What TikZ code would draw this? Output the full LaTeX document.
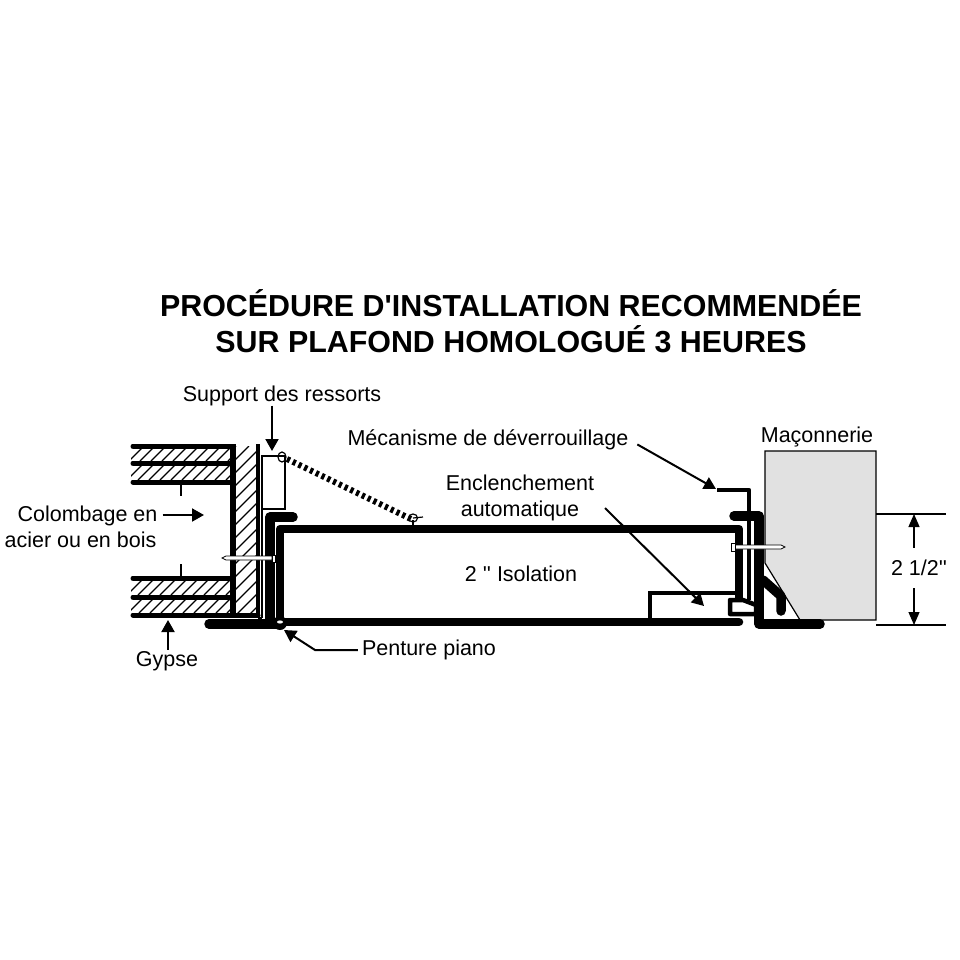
\documentclass[tikz,border=0pt]{standalone}
\usepackage{fontspec}
\newfontfamily\labelfont{Liberation Sans}
\usetikzlibrary{arrows.meta}
\tikzset{>=stealth}
\definecolor{masonry}{HTML}{E1E1E1}
\tikzset{
	lbl/.style={font=\labelfont\fontsize{21.5}{26}\selectfont, inner sep=0pt, text=black},
	titletext/.style={font=\labelfont\bfseries\fontsize{30.4}{36}\selectfont, inner sep=0pt, align=center},
	leader/.style={line width=2pt, -{Triangle[length=12pt,width=13pt]}},
	skin/.style={line width=5pt, line cap=round},
	sheet/.style={line width=9.5pt, line cap=round, line join=round},
	thin part/.style={line width=1.2pt},
	nail/.style={draw=black, fill=white, line width=0.7pt}
}
% hatched strip: x1, y1, x2, y2, spacing
\newcommand{\hatchbox}[5]{
	\begin{scope}
		\clip (#1,#2) rectangle (#3,#4);
		\pgfmathsetmacro{\hatchrise}{#4-#2}
		\pgfmathsetmacro{\hatchfirst}{#1-\hatchrise}
		\pgfmathsetmacro{\hatchnext}{\hatchfirst+#5}
		\foreach \hx in {\hatchfirst,\hatchnext,...,#3}
			\draw [line width=1.2pt] (\hx,#4) -- ++(\hatchrise,-\hatchrise);
	\end{scope}
}
\begin{document}
\begin{tikzpicture}[x=1pt,y=-1pt]
	\useasboundingbox (0,0) rectangle (960,960);
	% title
	\node [titletext] (title) at (511,321.5) {PROCÉDURE D'INSTALLATION RECOMMENDÉE\\SUR PLAFOND HOMOLOGUÉ 3 HEURES};
	% masonry
	\draw [thin part, fill=masonry] (765,563) -- (765,451) -- (876,451) -- (876,620) -- (800,620) -- cycle;
	% hatching of the wall
	\hatchbox{131}{448}{233}{461}{11}
	\hatchbox{131}{465}{233}{480}{11}
	\hatchbox{131}{580}{233}{595}{11}
	\hatchbox{131}{599}{233}{613}{11}
	\hatchbox{236}{446}{256}{615}{13}
	% wall layers
	\foreach \ylayer in {446,463,482,578,597,615}
		\draw [skin] (133,\ylayer) -- (233,\ylayer);
	\draw [line width=6pt] (233,444) -- (233,617);
	\draw [line width=3.5pt] (258,444) -- (258,617);
	\draw [skin] (233,615) -- (258,615);
	\draw [line width=2.2pt] (181,482) -- (181,496);
	\draw [line width=2.2pt] (181,564) -- (181,578);
	% spring support and spring
	\draw [line width=1.2pt] (262,618) -- (262,456) -- (285,456) -- (285,509) -- (262,509);
	\draw [line width=1.2pt] (258,618) -- (262,618);
	\draw [line width=6pt, dash pattern=on 3.2pt off 3.2pt] (287,459) -- (411,519);
	\draw [line width=1.2pt] (282,457) ellipse (4 and 5);
	\draw [line width=1.2pt] (413,518) ellipse (4.5 and 4);
	\draw [line width=1.2pt] (413,518) -- (423,517);
	\draw [line width=1.2pt] (413,520) -- (413,527);
	% left frame
	\draw [sheet] (293,517) -- (270,517) -- (270,622);
	\draw [sheet] (209,624) -- (280,624);
	% door panel
	\draw [line width=8.5pt, line join=round] (280,622) -- (280,529) -- (739,529) -- (739,598);
	\draw [line width=8.5pt, line cap=round] (280,622) -- (739,622);
	\fill (280,623) circle (7);
	\fill [white] (280,622) ellipse (3 and 1.6);
	% insulation box
	\draw [line width=4.5pt] (650,622) -- (650,593) -- (737,593);
	% latch side
	\draw [line width=4.5pt, line join=round, fill=white] (730,600) -- (743,600) -- (756,605) -- (756,614) -- (730,614) -- cycle;
	\draw [line width=4.5pt, line join=round] (717,490) -- (749,490) -- (749,600);
	\draw [sheet] (734,516) -- (759,516) -- (759,612);
	\draw [sheet] (759,612) -- (759,624) -- (820,624);
	\draw [sheet] (763,580) -- (781,596) -- (781,611);
	% nails
	\draw [nail] (222,558) -- (226,556) -- (272,556) -- (272,560) -- (226,560) -- cycle;
	\draw [nail] (272,555) rectangle (275,562);
	\draw [nail] (785,547) -- (781,545) -- (735,545) -- (735,549) -- (781,549) -- cycle;
	\draw [nail] (731,543) rectangle (735,551);
	% labels
	\node [lbl] (support) at (282,395.5) {Support des ressorts};
	\node [lbl] (maconnerie) at (817,436.5) {Maçonnerie};
	\node [lbl] (mecanisme) at (488,439.5) {Mécanisme de déverrouillage};
	\node [lbl, align=center] (enclenchement) at (520,497.5) {Enclenchement\\automatique};
	\node [lbl] (isolation) at (521,573.5) {2 '' Isolation};
	\node [lbl] (penture) at (429,650) {Penture piano};
	\node [lbl] (gypse) at (167,661.5) {Gypse};
	\node [lbl] (colombage) at (87.5,515.5) {Colombage en};
	\node [lbl] (acier) at (80.5,540) {acier ou en bois};
	\node [lbl] (hauteur) at (919,568) {2 1/2''};
	% arrow ends
	\coordinate (supporttip) at (272,451);
	\coordinate (colombagetip) at (204,515);
	\coordinate (gypsetip) at (168,620);
	\coordinate (penturebend) at (315,650);
	\coordinate (penturetip) at (284,630);
	\coordinate (levertip) at (716,489);
	\coordinate (latchtip) at (704,606);
	\coordinate (cotehaut) at (914,514);
	\coordinate (cotebas) at (914,625);
	% leaders
	\draw [leader] (support.south -| supporttip) -- (supporttip);
	\draw [leader, shorten <=5pt] (colombage.east |- colombagetip) -- (colombagetip);
	\draw [leader, shorten <=2pt] (gypse.north -| gypsetip) -- (gypsetip);
	\draw [leader, shorten <=4pt] (penture.west |- penturebend) -- (penturebend) -- (penturetip);
	\draw [leader, shorten <=10pt] (mecanisme.east) -- (levertip);
	\draw [leader, shorten <=15pt] (enclenchement.east) -- (latchtip);
	% dimension
	\draw [thin part] (876,514) -- (946,514);
	\draw [thin part] (876,625) -- (946,625);
	\draw [thin part, -{Triangle[length=13pt,width=11pt]}, shorten <=12pt] (hauteur.north -| cotehaut) -- (cotehaut);
	\draw [thin part, -{Triangle[length=13pt,width=11pt]}, shorten <=12pt] (hauteur.south -| cotebas) -- (cotebas);
\end{tikzpicture}
\end{document}
